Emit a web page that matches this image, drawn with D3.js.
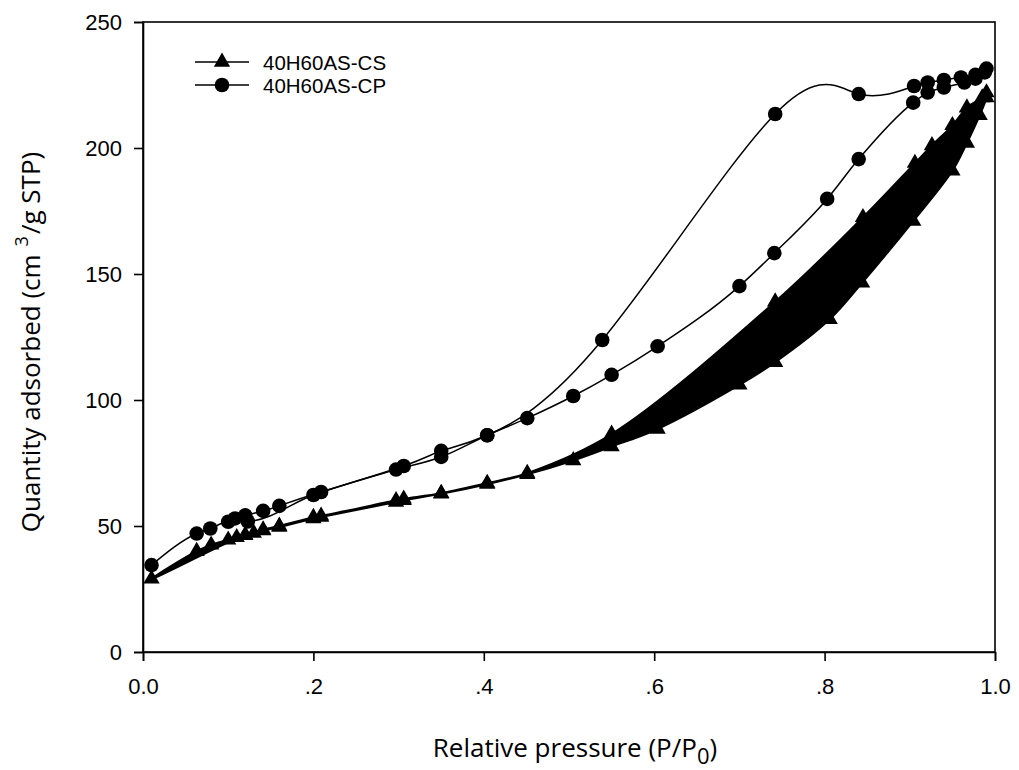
<!DOCTYPE html>
<html>
<head>
<meta charset="utf-8">
<script src="https://cdn.jsdelivr.net/npm/d3@7"></script>
<style>
	body { margin: 0; background: #fff; }
	svg { display: block; }
	.tick text { font-family: 'Liberation Sans', Arial, sans-serif; font-size: 22px; fill: #000; }
	.title { font-family: 'Open Sans', 'Noto Sans', sans-serif; font-size: 26px; fill: #000; }
	.legend text { font-family: 'Liberation Sans', Arial, sans-serif; font-size: 20.5px; fill: #000; }
</style>
</head>
<body>
<svg id="chart" width="1019" height="770"></svg>
<script>
	// [relative pressure, quantity adsorbed]
	var csAdsorption = [
		[0.01, 29], [0.063, 40], [0.08, 42.5], [0.10, 44.5], [0.11, 45.5], [0.12, 46.3],
		[0.13, 47.2], [0.141, 48.2], [0.16, 49.6], [0.20, 53], [0.209, 53.6], [0.297, 59.5],
		[0.306, 60.2], [0.35, 62.8], [0.404, 66.6], [0.451, 70.5], [0.505, 76], [0.55, 81.5],
		[0.604, 88.5], [0.70, 106], [0.742, 115], [0.806, 132], [0.844, 146.5], [0.904, 171],
		[0.95, 191], [0.967, 202], [0.982, 213], [0.99, 220]
	];
	var csDesorption = [
		[0.99, 222], [0.985, 220], [0.967, 216], [0.95, 209], [0.926, 201], [0.906, 194],
		[0.845, 172.5], [0.742, 139], [0.55, 86.5], [0.451, 71], [0.404, 67], [0.35, 63],
		[0.306, 60.8], [0.297, 60.2], [0.209, 54], [0.20, 53.5], [0.16, 50], [0.141, 48.5], [0.12, 46.5]
	];
	var cpAdsorption = [
		[0.01, 34.5], [0.063, 47], [0.079, 49], [0.10, 51.7], [0.123, 51.8], [0.20, 62.3],
		[0.297, 72.4], [0.35, 77.4], [0.404, 86], [0.451, 92.8], [0.505, 101.6], [0.55, 110],
		[0.604, 121.3], [0.70, 145.2], [0.741, 158.3], [0.803, 179.8], [0.84, 195.6],
		[0.904, 218], [0.921, 222], [0.94, 224], [0.964, 226], [0.977, 227.5], [0.988, 230]
	];
	var cpDesorption = [
		[0.99, 231.5], [0.977, 229], [0.96, 228], [0.94, 227], [0.921, 226], [0.905, 224.6],
		[0.84, 221.4], [0.742, 213.5], [0.539, 123.8], [0.404, 86], [0.35, 79.8], [0.306, 73.8],
		[0.209, 63.5], [0.16, 58], [0.141, 56], [0.12, 54.2], [0.108, 53]
	];
	var xTicks = [0, 0.2, 0.4, 0.6, 0.8, 1.0];
	var xTickLabels = ['0.0', '.2', '.4', '.6', '.8', '1.0'];
	var yTicks = [0, 50, 100, 150, 200, 250];
	var seriesNames = ['40H60AS-CS', '40H60AS-CP'];

	var svg = d3.select('#chart');
	var margin = {top: 22, right: 24, bottom: 118, left: 143};
	var width = 1019 - margin.left - margin.right,
		height = 770 - margin.top - margin.bottom;

	var x = d3.scaleLinear().domain([0, 1]).range([0, width]);
	var y = d3.scaleLinear().domain([0, 250]).range([height, 0]);

	var g = svg.append('g').attr('transform', 'translate(' + margin.left + ',' + margin.top + ')');

	// frame
	g.append('rect')
		.attr('width', width).attr('height', height)
		.attr('fill', 'none').attr('stroke', '#000').attr('stroke-width', 1.6);

	var xAxis = g.append('g')
		.attr('transform', 'translate(0,' + height + ')')
		.call(d3.axisBottom(x).tickValues(xTicks).tickSize(9).tickPadding(17)
			.tickFormat(function(d, i){ return xTickLabels[i]; }));
	var yAxis = g.append('g')
		.call(d3.axisLeft(y).tickValues(yTicks).tickSize(9).tickPadding(12));
	[xAxis, yAxis].forEach(function(a){
		a.select('.domain').attr('stroke-width', 1.6);
		a.selectAll('.tick line').attr('stroke-width', 1.6);
	});

	// CS: hysteresis loop drawn filled
	var loopLine = d3.line()
		.x(function(d){ return x(d[0]); })
		.y(function(d){ return y(d[1]); })
		.curve(d3.curveCatmullRomClosed.alpha(0.5));
	g.append('path')
		.attr('d', loopLine(csAdsorption.concat(csDesorption)))
		.attr('fill', '#000').attr('stroke', '#000').attr('stroke-width', 2);

	// CP lines
	var adsLine = d3.line()
		.x(function(d){ return x(d[0]); })
		.y(function(d){ return y(d[1]); })
		.curve(d3.curveMonotoneX);
	var desLine = d3.line()
		.x(function(d){ return x(d[0]); })
		.y(function(d){ return y(d[1]); })
		.curve(d3.curveNatural);
	g.append('path').attr('d', adsLine(cpAdsorption))
		.attr('fill', 'none').attr('stroke', '#000').attr('stroke-width', 1.5);
	g.append('path').attr('d', desLine(cpDesorption))
		.attr('fill', 'none').attr('stroke', '#000').attr('stroke-width', 1.5);

	var tri = d3.symbol().type(d3.symbolTriangle).size(115);
	g.selectAll('.cs-pt')
		.data(csAdsorption.concat(csDesorption))
		.enter().append('path')
		.attr('class', 'cs-pt')
		.attr('d', tri)
		.attr('transform', function(d){ return 'translate(' + x(d[0]) + ',' + y(d[1]) + ')'; })
		.attr('fill', '#000');

	g.selectAll('.cp-pt')
		.data(cpAdsorption.concat(cpDesorption))
		.enter().append('circle')
		.attr('class', 'cp-pt')
		.attr('cx', function(d){ return x(d[0]); })
		.attr('cy', function(d){ return y(d[1]); })
		.attr('r', 7.3)
		.attr('fill', '#000');

	// legend
	var legend = svg.append('g').attr('class', 'legend');
	seriesNames.forEach(function(name, i){
		var ly = 62 + i * 23;
		legend.append('line')
			.attr('x1', 195).attr('x2', 249).attr('y1', ly).attr('y2', ly)
			.attr('stroke', '#000').attr('stroke-width', 1.5);
		if (i === 0) {
			legend.append('path').attr('d', tri).attr('transform', 'translate(222,' + ly + ')');
		} else {
			legend.append('circle').attr('cx', 222).attr('cy', ly).attr('r', 7.3);
		}
		legend.append('text').attr('x', 263).attr('y', ly + 7.5).text(name);
	});

	// axis titles
	var xt = svg.append('text').attr('class', 'title')
		.attr('x', margin.left + width / 2 + 6).attr('y', 757)
		.attr('text-anchor', 'middle');
	xt.append('tspan').text('Relative pressure (P/P');
	xt.append('tspan').attr('dy', 7).attr('font-size', '22px').text('0');
	xt.append('tspan').attr('dy', -7).text(')');

	var yt = svg.append('text').attr('class', 'title')
		.attr('transform', 'translate(40,' + (margin.top + height / 2 + 5) + ') rotate(-90)')
		.attr('text-anchor', 'middle');
	yt.append('tspan').text('Quantity adsorbed (cm');
	yt.append('tspan').attr('dx', 8).attr('dy', -12).attr('font-size', '18px').text('3');
	yt.append('tspan').attr('dx', 2).attr('dy', 12).text('/g STP)');
</script>
</body>
</html>
